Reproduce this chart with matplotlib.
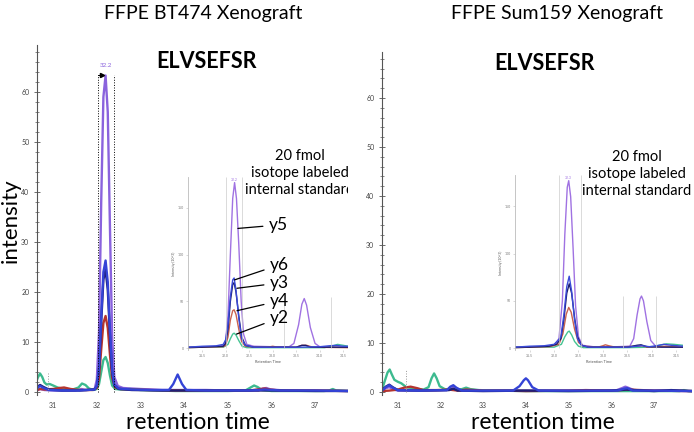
import matplotlib.pyplot as plt
from matplotlib.ticker import MultipleLocator

plt.rcParams['font.family'] = ['Lato', 'DejaVu Sans']

W, H = 694, 432

# --- data (time in min, intensity) ---
panel_titles = ['FFPE BT474 Xenograft', 'FFPE Sum159 Xenograft']
peptide = 'ELVSEFSR'
standard_note = '20 fmol\nisotope labeled\ninternal standard'
ion_labels = ['y5', 'y6', 'y3', 'y4', 'y2']
main_xticks = [31, 32, 33, 34, 35, 36, 37]
main_yticks = [0, 10, 20, 30, 40, 50, 60]
inset_xticks = [31.5, 32.0, 32.5, 33.0, 33.5, 34.0, 34.5]
inset_yticks = [0, 50, 100, 150]

# BT474 main chromatogram
bt_green = [(30.60, 1.8), (30.65, 2.9), (30.70, 3.7), (30.75, 3.0), (30.80, 1.9), (30.85, 1.5),
            (30.92, 1.6), (31.00, 1.3), (31.10, 0.9), (31.25, 0.6), (31.45, 0.5), (31.58, 0.9),
            (31.66, 1.7), (31.74, 1.4), (31.82, 0.7), (31.92, 0.4), (32.00, 0.6), (32.05, 1.6),
            (32.10, 4.0), (32.15, 6.4), (32.20, 7.0), (32.25, 5.8), (32.30, 3.3), (32.35, 1.3),
            (32.42, 0.6), (32.55, 0.5), (32.75, 0.6), (33.00, 0.4), (33.40, 0.3), (33.80, 0.2),
            (34.40, 0.2), (35.00, 0.2), (35.40, 0.3), (35.50, 0.8), (35.60, 1.3), (35.68, 1.0),
            (35.78, 0.4), (36.00, 0.2), (36.60, 0.2), (37.20, 0.2), (37.32, 0.3), (37.40, 0.6),
            (37.48, 0.3), (37.75, 0.2)]
bt_red = [(30.60, 0.3), (30.70, 0.6), (30.80, 0.5), (31.00, 0.6), (31.15, 0.8), (31.25, 0.9),
          (31.40, 0.6), (31.60, 0.4), (31.90, 0.4), (32.00, 0.8), (32.05, 2.8), (32.10, 8.5),
          (32.15, 13.8), (32.20, 15.2), (32.25, 12.8), (32.30, 7.5), (32.35, 2.8), (32.42, 0.9),
          (32.55, 0.6), (32.80, 0.5), (33.20, 0.4), (33.80, 0.3), (34.50, 0.3), (35.00, 0.3),
          (35.50, 0.3), (35.75, 0.6), (35.85, 0.7), (35.95, 0.5), (36.20, 0.3), (37.00, 0.3),
          (37.75, 0.2)]
bt_purple = [(30.60, 0.2), (30.70, 0.6), (30.80, 0.4), (31.00, 0.3), (31.50, 0.3), (31.65, 0.6),
             (31.75, 0.4), (31.95, 0.6), (32.00, 2.5), (32.05, 12.0), (32.10, 38.0), (32.15, 59.0),
             (32.20, 63.3), (32.25, 56.0), (32.30, 33.0), (32.35, 11.0), (32.40, 3.0), (32.48, 1.2),
             (32.60, 0.8), (33.00, 0.6), (33.50, 0.4), (34.00, 0.4), (34.50, 0.4), (35.00, 0.3),
             (35.70, 0.3), (35.80, 0.7), (35.88, 0.8), (35.98, 0.5), (36.30, 0.3), (37.00, 0.3),
             (37.75, 0.2)]
bt_blue = [(30.60, 0.4), (30.65, 0.9), (30.70, 1.2), (30.78, 0.8), (30.90, 0.4), (31.20, 0.3),
           (31.60, 0.3), (31.95, 0.5), (32.00, 1.3), (32.05, 5.0), (32.10, 15.0), (32.15, 24.0),
           (32.20, 26.3), (32.25, 22.0), (32.30, 12.5), (32.35, 4.5), (32.40, 1.5), (32.50, 0.7),
           (32.80, 0.5), (33.30, 0.4), (33.65, 0.4), (33.75, 1.6), (33.85, 3.5), (33.95, 1.6),
           (34.05, 0.4), (34.50, 0.3), (35.00, 0.3), (35.50, 0.3), (35.85, 0.5), (36.20, 0.3),
           (37.00, 0.3), (37.75, 0.2)]
bt_navy = [(30.60, 0.5), (30.65, 1.1), (30.70, 1.4), (30.78, 1.0), (30.90, 0.5), (31.20, 0.3),
           (31.60, 0.3), (31.95, 0.5), (32.00, 1.2), (32.05, 4.5), (32.10, 14.0), (32.15, 22.5),
           (32.20, 24.4), (32.25, 20.5), (32.30, 11.5), (32.35, 4.0), (32.40, 1.3), (32.50, 0.6),
           (32.80, 0.4), (33.50, 0.3), (34.00, 0.3), (35.00, 0.3), (36.00, 0.3), (37.00, 0.2),
           (37.75, 0.2)]

# Sum159 main chromatogram
sum_green = [(30.63, 0.5), (30.70, 2.4), (30.76, 4.0), (30.81, 4.6), (30.86, 3.6), (30.92, 2.5),
             (31.00, 2.1), (31.08, 1.8), (31.20, 1.0), (31.40, 0.7), (31.60, 0.5), (31.72, 1.0),
             (31.79, 2.8), (31.85, 3.8), (31.91, 2.8), (31.98, 1.2), (32.10, 0.6), (32.30, 0.5),
             (32.50, 0.6), (32.60, 0.9), (32.70, 0.6), (32.90, 0.4), (33.30, 0.3), (34.00, 0.2),
             (35.00, 0.2), (36.00, 0.2), (37.00, 0.2), (37.60, 0.2), (37.70, 0.4), (37.80, 0.2),
             (37.89, 0.2)]
sum_red = [(30.63, 0.2), (30.80, 0.3), (31.00, 0.5), (31.15, 0.9), (31.30, 1.1), (31.45, 0.8),
           (31.60, 0.4), (31.90, 0.4), (32.20, 0.5), (32.40, 0.3), (32.60, 0.5), (33.00, 0.3),
           (33.50, 0.3), (34.00, 0.2), (35.00, 0.3), (35.40, 0.4), (36.00, 0.3), (36.40, 0.5),
           (37.00, 0.3), (37.89, 0.2)]
sum_purple = [(30.63, 0.3), (30.72, 0.8), (30.80, 1.0), (30.88, 0.6), (31.00, 0.3), (31.50, 0.3),
              (32.15, 0.4), (32.25, 1.0), (32.30, 1.2), (32.38, 0.7), (32.50, 0.3), (33.00, 0.3),
              (34.00, 0.3), (35.00, 0.3), (36.10, 0.3), (36.25, 0.8), (36.33, 1.1), (36.42, 0.8),
              (36.55, 0.3), (37.00, 0.3), (37.89, 0.2)]
sum_blue = [(30.63, 0.3), (30.72, 1.0), (30.80, 1.4), (30.88, 0.9), (31.00, 0.4), (31.50, 0.3),
            (32.15, 0.4), (32.23, 1.1), (32.30, 1.4), (32.37, 0.9), (32.50, 0.3), (33.00, 0.3),
            (33.70, 0.3), (33.85, 1.2), (33.95, 2.4), (34.00, 2.8), (34.05, 2.4), (34.15, 1.0),
            (34.30, 0.3), (35.00, 0.3), (36.15, 0.3), (36.30, 0.7), (36.38, 0.8), (36.50, 0.3),
            (37.00, 0.3), (37.89, 0.2)]
sum_navy = [(30.63, 0.4), (30.72, 1.1), (30.80, 1.5), (30.88, 1.0), (31.00, 0.4), (31.50, 0.3),
            (32.20, 0.4), (32.30, 0.7), (32.40, 0.3), (33.00, 0.2), (34.00, 0.3), (35.00, 0.2),
            (36.00, 0.3), (36.35, 0.5), (37.00, 0.2), (37.40, 0.4), (37.89, 0.2)]

# internal standard insets
ibt_y5 = [(31.20, 0.5), (31.50, 1.0), (31.80, 1.5), (31.95, 3.0), (32.00, 8.0), (32.05, 35.0),
          (32.10, 100.0), (32.15, 160.0), (32.19, 177.0), (32.23, 160.0), (32.28, 110.0),
          (32.33, 50.0), (32.38, 15.0), (32.45, 4.0), (32.60, 2.0), (33.00, 1.5), (33.35, 1.5),
          (33.45, 5.0), (33.55, 25.0), (33.62, 47.0), (33.67, 53.0), (33.72, 46.0), (33.80, 22.0),
          (33.90, 5.0), (34.00, 1.5), (34.30, 1.0), (34.60, 1.0)]
ibt_y6 = [(31.20, 1.0), (31.50, 2.0), (31.80, 2.5), (31.95, 4.0), (32.00, 9.0), (32.05, 25.0),
          (32.10, 55.0), (32.15, 73.0), (32.18, 75.0), (32.22, 62.0), (32.28, 32.0), (32.34, 10.0),
          (32.42, 3.0), (32.60, 1.0), (33.00, 1.0), (33.60, 1.0), (34.00, 1.5), (34.20, 2.5),
          (34.35, 3.0), (34.50, 2.0), (34.60, 2.0)]
ibt_y3 = [(31.20, 1.0), (31.50, 1.0), (31.95, 2.0), (32.00, 5.0), (32.05, 20.0), (32.10, 50.0),
          (32.15, 68.0), (32.18, 70.0), (32.22, 60.0), (32.28, 34.0), (32.34, 12.0), (32.42, 3.0),
          (32.60, 1.0), (33.00, 1.0), (33.50, 1.0), (33.62, 3.0), (33.70, 3.0), (33.80, 1.0),
          (34.60, 1.0)]
ibt_y4 = [(31.20, 0.5), (31.50, 1.0), (31.95, 1.5), (32.00, 3.0), (32.05, 12.0), (32.10, 30.0),
          (32.15, 40.0), (32.18, 41.0), (32.22, 36.0), (32.28, 20.0), (32.34, 7.0), (32.42, 2.0),
          (32.60, 1.0), (32.90, 1.0), (33.00, 2.0), (33.10, 1.0), (33.50, 1.0), (33.62, 3.0),
          (33.72, 3.0), (33.85, 1.0), (34.60, 0.5)]
ibt_y2 = [(31.20, 0.5), (31.50, 1.0), (31.95, 1.0), (32.05, 4.0), (32.10, 10.0), (32.15, 15.0),
          (32.18, 16.0), (32.22, 14.0), (32.28, 8.0), (32.35, 2.0), (32.45, 0.5), (33.00, 0.5),
          (34.10, 0.5), (34.25, 2.0), (34.38, 4.0), (34.50, 3.0), (34.60, 2.0)]

isum_y5 = [(31.20, 0.5), (31.50, 1.0), (31.80, 1.5), (32.00, 3.0), (32.10, 10.0), (32.17, 50.0),
           (32.22, 120.0), (32.27, 170.0), (32.30, 177.0), (32.34, 160.0), (32.39, 105.0),
           (32.44, 45.0), (32.50, 12.0), (32.58, 3.0), (32.80, 1.5), (33.30, 1.5), (33.55, 2.0),
           (33.63, 10.0), (33.70, 35.0), (33.76, 52.0), (33.79, 55.0), (33.83, 50.0), (33.90, 28.0),
           (33.98, 8.0), (34.08, 2.0), (34.40, 1.0), (34.64, 1.0)]
isum_y6 = [(31.20, 1.0), (31.50, 2.0), (31.80, 2.5), (32.00, 4.0), (32.08, 8.0), (32.14, 12.0),
           (32.20, 35.0), (32.26, 65.0), (32.31, 76.0), (32.36, 60.0), (32.42, 30.0), (32.48, 10.0),
           (32.56, 3.0), (32.70, 1.0), (33.50, 1.0), (33.70, 2.0), (33.80, 2.5), (33.95, 1.5),
           (34.10, 2.5), (34.25, 4.0), (34.40, 3.0), (34.64, 2.0)]
isum_y3 = [(31.20, 1.0), (31.50, 1.0), (31.90, 2.0), (32.05, 4.0), (32.14, 10.0), (32.20, 30.0),
           (32.26, 58.0), (32.31, 68.0), (32.36, 58.0), (32.42, 32.0), (32.48, 12.0), (32.56, 3.0),
           (32.70, 1.0), (33.50, 1.0), (33.70, 3.0), (33.78, 3.5), (33.90, 1.5), (34.20, 1.0),
           (34.64, 1.0)]
isum_y4 = [(31.20, 0.5), (31.50, 1.0), (31.90, 1.5), (32.10, 4.0), (32.18, 15.0), (32.25, 36.0),
           (32.30, 43.0), (32.35, 38.0), (32.42, 20.0), (32.50, 6.0), (32.60, 2.0), (32.90, 1.0),
           (33.00, 2.5), (33.05, 3.5), (33.12, 2.5), (33.25, 1.0), (33.70, 2.0), (33.80, 2.5),
           (33.90, 1.0), (34.30, 2.0), (34.64, 1.0)]
isum_y2 = [(31.20, 0.5), (31.50, 1.0), (32.00, 1.0), (32.15, 4.0), (32.22, 12.0), (32.28, 17.0),
           (32.31, 18.0), (32.36, 14.0), (32.42, 7.0), (32.50, 2.0), (32.60, 0.5), (33.50, 0.5),
           (34.00, 1.0), (34.15, 3.0), (34.30, 4.5), (34.45, 4.0), (34.64, 3.0)]

# integration window / marker positions
bt_window = [32.02, 32.39]
bt_apex = 32.2
bt_apex_height = 63.4
bt_small_marker = [30.88, 3.8]
sum_small_marker = [31.20, 4.6]
ibt_windows = [32.0, 32.34, 33.23, 34.23]
isum_windows = [32.1, 32.55, 33.41, 34.08]
# where the y-ion leader lines touch the curves (left inset)
ion_points = [(32.26, 128), (32.19, 73), (32.24, 64), (32.24, 40), (32.23, 15)]

# --- colours ---
c_green, c_red, c_purple, c_blue, c_navy = '#3dba8f', '#b5342f', '#8a63dd', '#3443d6', '#1f1f78'
ci_green, ci_red, ci_purple, ci_blue, ci_navy = '#45c493', '#c9624f', '#a072e2', '#3a4ad9', '#1c1c6c'


def px_box(x0, y0, x1, y1):
    return [x0 / W, 1 - y1 / H, (x1 - x0) / W, (y1 - y0) / H]


def fxy(x, y):
    return x / W, 1 - y / H


def draw(ax, traces, lw):
    for pts, col in traces:
        t, v = zip(*pts)
        ax.plot(t, v, color=col, lw=lw, solid_joinstyle='round', solid_capstyle='round')


def style_main(ax, xmax):
    ax.set_xlim(30.63, xmax)
    ax.set_ylim(-0.6, 69.4)
    for s in ['top', 'right', 'bottom']:
        ax.spines[s].set_visible(False)
    ax.spines['left'].set_color('#555555')
    ax.spines['left'].set_linewidth(0.8)
    ax.set_xticks(main_xticks)
    ax.set_yticks(main_yticks)
    ax.yaxis.set_minor_locator(MultipleLocator(2))
    ax.tick_params(axis='y', which='major', direction='inout', length=5, width=0.6,
                   color='#555555', labelsize=5, labelcolor='#444444', pad=3)
    ax.tick_params(axis='y', which='minor', direction='inout', length=3, width=0.5, color='#555555')
    ax.tick_params(axis='x', length=0, labelsize=5, labelcolor='#444444', pad=5)


def style_inset(ax, xmax):
    ax.set_xlim(31.2, xmax)
    ax.set_ylim(-2, 183)
    ax.set_facecolor('white')
    for s in ['top', 'right', 'bottom']:
        ax.spines[s].set_visible(False)
    ax.spines['left'].set_color('#bbbbbb')
    ax.spines['left'].set_linewidth(0.6)
    ax.set_xticks(inset_xticks)
    ax.set_yticks(inset_yticks)
    ax.tick_params(axis='both', length=1.5, width=0.4, color='#bbbbbb', labelsize=2.5,
                   labelcolor='#777777', pad=1.5)
    ax.set_xlabel('Retention Time', fontsize=2.8, color='#555555', labelpad=1.5)
    ax.set_ylabel('Intensity (10^3)', fontsize=2.5, color='#555555', labelpad=1.5)


fig = plt.figure(figsize=(W / 100, H / 100), dpi=100)

# --- main panels ---
ax1 = fig.add_axes(px_box(37, 45, 348, 395))
draw(ax1, [(bt_purple, c_purple), (bt_green, c_green), (bt_red, c_red),
           (bt_navy, c_navy), (bt_blue, c_blue)], 1.7)
style_main(ax1, 37.75)
ax1.vlines(bt_window, 0, bt_apex_height, colors='black', linestyles=':', lw=0.7)
ax1.plot([bt_window[0], bt_window[0] + 0.09], [bt_apex_height] * 2, color='black', lw=0.7)
ax1.plot(bt_window[0] + 0.09, bt_apex_height, marker='>', ms=3, color='black')
ax1.text(bt_apex, bt_apex_height + 1.6, '32.2', fontsize=4.5, color=c_purple, ha='center')
ax1.vlines(bt_small_marker[0], 0, bt_small_marker[1], colors='#999999', linestyles=':', lw=0.7)

ax2 = fig.add_axes(px_box(382, 52, 692, 395))
draw(ax2, [(sum_purple, c_purple), (sum_green, c_green), (sum_red, c_red),
           (sum_navy, c_navy), (sum_blue, c_blue)], 1.7)
style_main(ax2, 37.89)
ax2.vlines(sum_small_marker[0], 0, sum_small_marker[1], colors='#999999', linestyles=':', lw=0.7)

# --- insets with the labeled internal standard ---
in1 = fig.add_axes(px_box(188, 177, 348, 350))
draw(in1, [(ibt_y5, ci_purple), (ibt_y2, ci_green), (ibt_y4, ci_red),
           (ibt_y3, ci_navy), (ibt_y6, ci_blue)], 1.0)
style_inset(in1, 34.6)
in1.vlines(ibt_windows, 0, [183, 183, 55, 55], colors='#cccccc', lw=0.5)
in1.text(32.19, 179, '32.2', fontsize=2.5, color=ci_purple, ha='center')

in2 = fig.add_axes(px_box(515, 175, 683, 350))
draw(in2, [(isum_y5, ci_purple), (isum_y2, ci_green), (isum_y4, ci_red),
           (isum_y3, ci_navy), (isum_y6, ci_blue)], 1.0)
style_inset(in2, 34.64)
in2.vlines(isum_windows, 0, [183, 183, 55, 55], colors='#cccccc', lw=0.5)
in2.text(32.30, 179, '32.3', fontsize=2.5, color=ci_purple, ha='center')

label_pos = [(278, 225), (279, 265), (279, 283), (279, 301), (279, 318)]
for lab, pt, pos in zip(ion_labels, ion_points, label_pos):
    in1.annotate(lab, xy=pt, xycoords='data', xytext=fxy(*pos), textcoords='figure fraction',
                 ha='center', va='center', fontsize=12.5,
                 arrowprops=dict(arrowstyle='-', lw=0.9, color='black', shrinkA=2, shrinkB=0))

# --- texts ---
fig.text(*fxy(203, 13), panel_titles[0], fontsize=14, ha='center', va='center')
fig.text(*fxy(557, 13), panel_titles[1], fontsize=14, ha='center', va='center')
fig.text(*fxy(207, 62), peptide, fontsize=15.5, fontweight='bold', ha='center', va='center')
fig.text(*fxy(545, 63), peptide, fontsize=15.5, fontweight='bold', ha='center', va='center')
note1 = fig.text(*fxy(300, 173), standard_note, fontsize=10.5, ha='center', va='center',
                 linespacing=1.3)
note1.set_clip_box(ax1.bbox)
note1.set_clip_on(True)
fig.text(*fxy(637, 174), standard_note, fontsize=10.5, ha='center', va='center', linespacing=1.3)
fig.text(*fxy(11, 221), 'intensity', fontsize=16, rotation=90, ha='center', va='center')
fig.text(*fxy(198, 429), 'retention time', fontsize=16.5, ha='center', va='baseline')
fig.text(*fxy(543, 429), 'retention time', fontsize=16.5, ha='center', va='baseline')

fig.savefig('out.png', dpi=100)
